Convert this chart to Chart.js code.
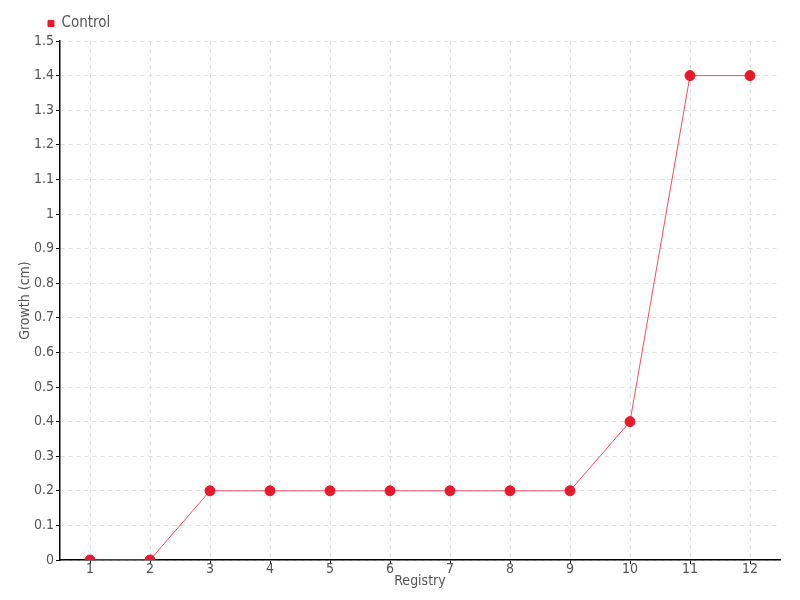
<!DOCTYPE html>
<html>
<head>
<meta charset="utf-8">
<script src="https://cdn.jsdelivr.net/npm/chart.js@4"></script>
<style>
  html, body { margin: 0; padding: 0; background: #fff; }
  #wrap { width: 800px; height: 600px; }
</style>
</head>
<body>
<div id="wrap"><canvas id="growthChart" width="800" height="600"></canvas></div>
<script>
// data
var registry = ['1', '2', '3', '4', '5', '6', '7', '8', '9', '10', '11', '12'];
var controlGrowth = [0, 0, 0.2, 0.2, 0.2, 0.2, 0.2, 0.2, 0.2, 0.4, 1.4, 1.4];

var fontName = "'Liberation Sans Narrow', 'DejaVu Sans Condensed', sans-serif";
var textGray = '#555';

// push the legend right so it starts near the y axis
var legendShift = {
    id: 'legendShift',
    afterLayout: function (chart) {
        chart.legend.left = 40;
    }
};

var ctx = document.getElementById('growthChart').getContext('2d');
var growthChart = new Chart(ctx, {
    type: 'line',
    data: {
        labels: registry,
        datasets: [{
            label: 'Control',
            data: controlGrowth,
            borderColor: '#ff4a5c',
            borderWidth: 1,
            backgroundColor: '#e8192c',
            pointBackgroundColor: '#e8192c',
            pointBorderColor: '#e8192c',
            pointRadius: 5,
            pointHoverRadius: 5,
            fill: false,
            tension: 0
        }]
    },
    plugins: [legendShift],
    options: {
        responsive: false,
        animation: false,
        layout: { padding: { left: 0, right: 20, top: 8, bottom: 0 } },
        plugins: {
            tooltip: { enabled: false },
            legend: {
                align: 'start',
                labels: {
                    usePointStyle: true,
                    pointStyle: 'rect',
                    boxWidth: 6,
                    boxHeight: 6,
                    padding: 8,
                    color: textGray,
                    font: { family: fontName, size: 15 }
                }
            }
        },
        scales: {
            x: {
                offset: true,
                grid: {
                    offset: false,
                    color: '#e0e0e0',
                    tickColor: '#000',
                    tickLength: 4
                },
                border: { color: '#000', width: 1.5, dash: [4, 4] },
                ticks: {
                    color: textGray,
                    padding: -3,
                    maxRotation: 0,
                    font: { family: fontName, size: 14 }
                },
                title: {
                    display: true,
                    text: 'Registry',
                    color: textGray,
                    padding: { top: 0, bottom: 10 },
                    font: { family: fontName, size: 14 }
                },
                afterFit: function (scale) { scale.height = 40; }
            },
            y: {
                min: 0,
                max: 1.5,
                grid: {
                    color: '#e0e0e0',
                    tickColor: '#000',
                    tickLength: 4
                },
                border: { color: '#000', width: 1.5, dash: [4, 4] },
                ticks: {
                    stepSize: 0.1,
                    color: textGray,
                    padding: 2,
                    font: { family: fontName, size: 14 },
                    callback: function (v) { return String(Number(v.toFixed(1))); }
                },
                title: {
                    display: true,
                    text: 'Growth (cm)',
                    color: textGray,
                    padding: { top: 17, bottom: 0 },
                    font: { family: fontName, size: 14 }
                },
                afterFit: function (scale) { scale.width = 60; }
            }
        }
    }
});
</script>
</body>
</html>
